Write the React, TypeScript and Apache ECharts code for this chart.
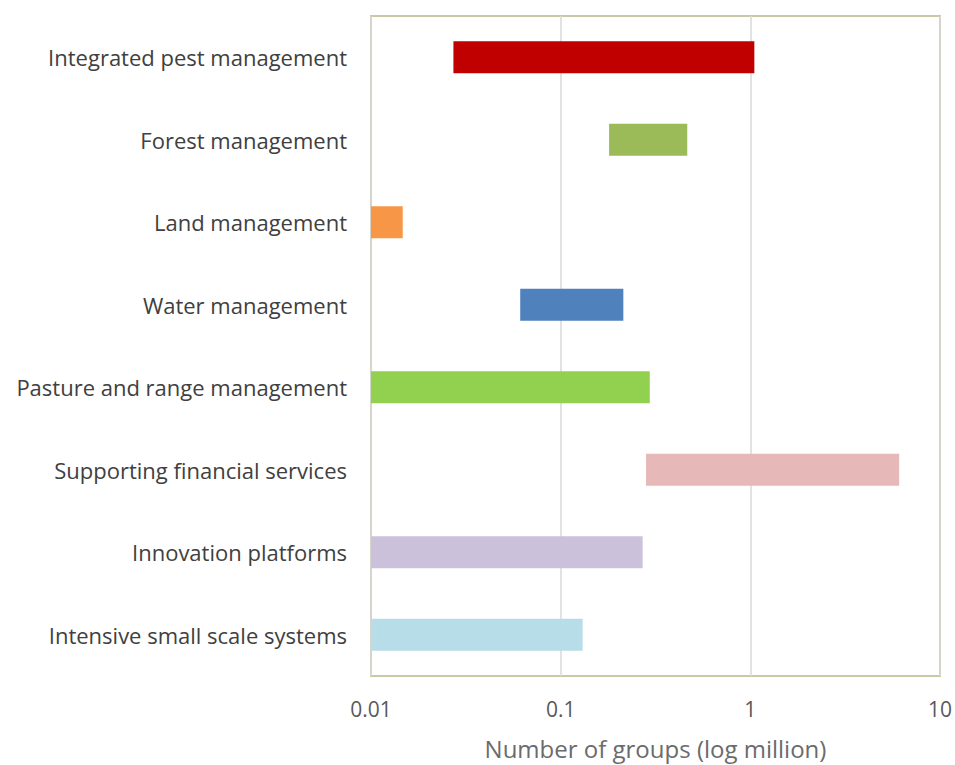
import React, { useEffect, useRef } from "react";
import * as echarts from "echarts";

const categories = [
  "Integrated pest management",
  "Forest management",
  "Land management",
  "Water management",
  "Pasture and range management",
  "Supporting financial services",
  "Innovation platforms",
  "Intensive small scale systems",
];
const startValues = [0.0272, 0.18, 0.01, 0.0612, 0.01, 0.282, 0.01, 0.01];
const endValues = [1.05, 0.465, 0.0147, 0.214, 0.295, 6.09, 0.2705, 0.1306];
const barColors = [
  "#c00000",
  "#9bbb59",
  "#f79646",
  "#4f81bd",
  "#92d050",
  "#e6b9b8",
  "#ccc1da",
  "#b7dee8",
];
const tickLabels: Record<string, string> = { "0.01": "0.01", "0.1": "0.1", "1": "1", "10": "10" };

export default function App() {
  const ref = useRef<HTMLDivElement>(null);
  useEffect(() => {
    if (!ref.current) return;
    const chart = echarts.init(ref.current, null, { renderer: "svg" });
    const data = categories.map((c, i) => [i, startValues[i], endValues[i]]);
    chart.setOption({
      animation: false,
      backgroundColor: "#ffffff",
      grid: {
        left: 371,
        top: 16,
        right: 15,
        bottom: 87,
        show: true,
        borderColor: "#c9c9a6",
        borderWidth: 2,
        backgroundColor: "transparent",
      },
      xAxis: {
        type: "log",
        logBase: 10,
        min: 0.01,
        max: 10,
        name: "Number of groups (log million)",
        nameLocation: "middle",
        nameGap: 60,
        nameTextStyle: { fontFamily: "Open Sans", fontSize: 24, color: "#6b6b6b" },
        axisLine: { show: false },
        axisTick: { show: false },
        axisLabel: {
          fontFamily: "Open Sans",
          fontSize: 21,
          color: "#595959",
          margin: 22,
          formatter: (v: number) => {
            const key = String(+v.toPrecision(3));
            return tickLabels[key] ?? key;
          },
        },
        splitLine: { show: true, lineStyle: { color: "#d9d9d9", width: 1.5 } },
        minorTick: { show: false },
      },
      yAxis: {
        type: "category",
        data: categories,
        inverse: true,
        axisLine: { show: false },
        axisTick: { show: false },
        axisLabel: {
          fontFamily: "Open Sans",
          fontSize: 22,
          color: "#404040",
          margin: 24,
        },
        splitLine: { show: false },
      },
      series: [
        {
          type: "custom",
          data,
          encode: { x: [1, 2], y: 0 },
          renderItem: (params: any, api: any) => {
            const idx = api.value(0);
            const s = api.coord([api.value(1), idx]);
            const e = api.coord([api.value(2), idx]);
            const band = api.size([0, 1])[1];
            const h = band * 0.39;
            const rect = echarts.graphic.clipRectByRect(
              { x: s[0], y: s[1] - h / 2, width: e[0] - s[0], height: h },
              {
                x: params.coordSys.x,
                y: params.coordSys.y,
                width: params.coordSys.width,
                height: params.coordSys.height,
              }
            );
            return rect
              ? { type: "rect", shape: rect, style: { fill: barColors[params.dataIndex] } }
              : null;
          },
        },
      ],
    });
    return () => chart.dispose();
  }, []);
  return (
    <div
      ref={ref}
      style={{ width: 955, height: 765, position: "fixed", left: 0, top: 0 }}
    />
  );
}
